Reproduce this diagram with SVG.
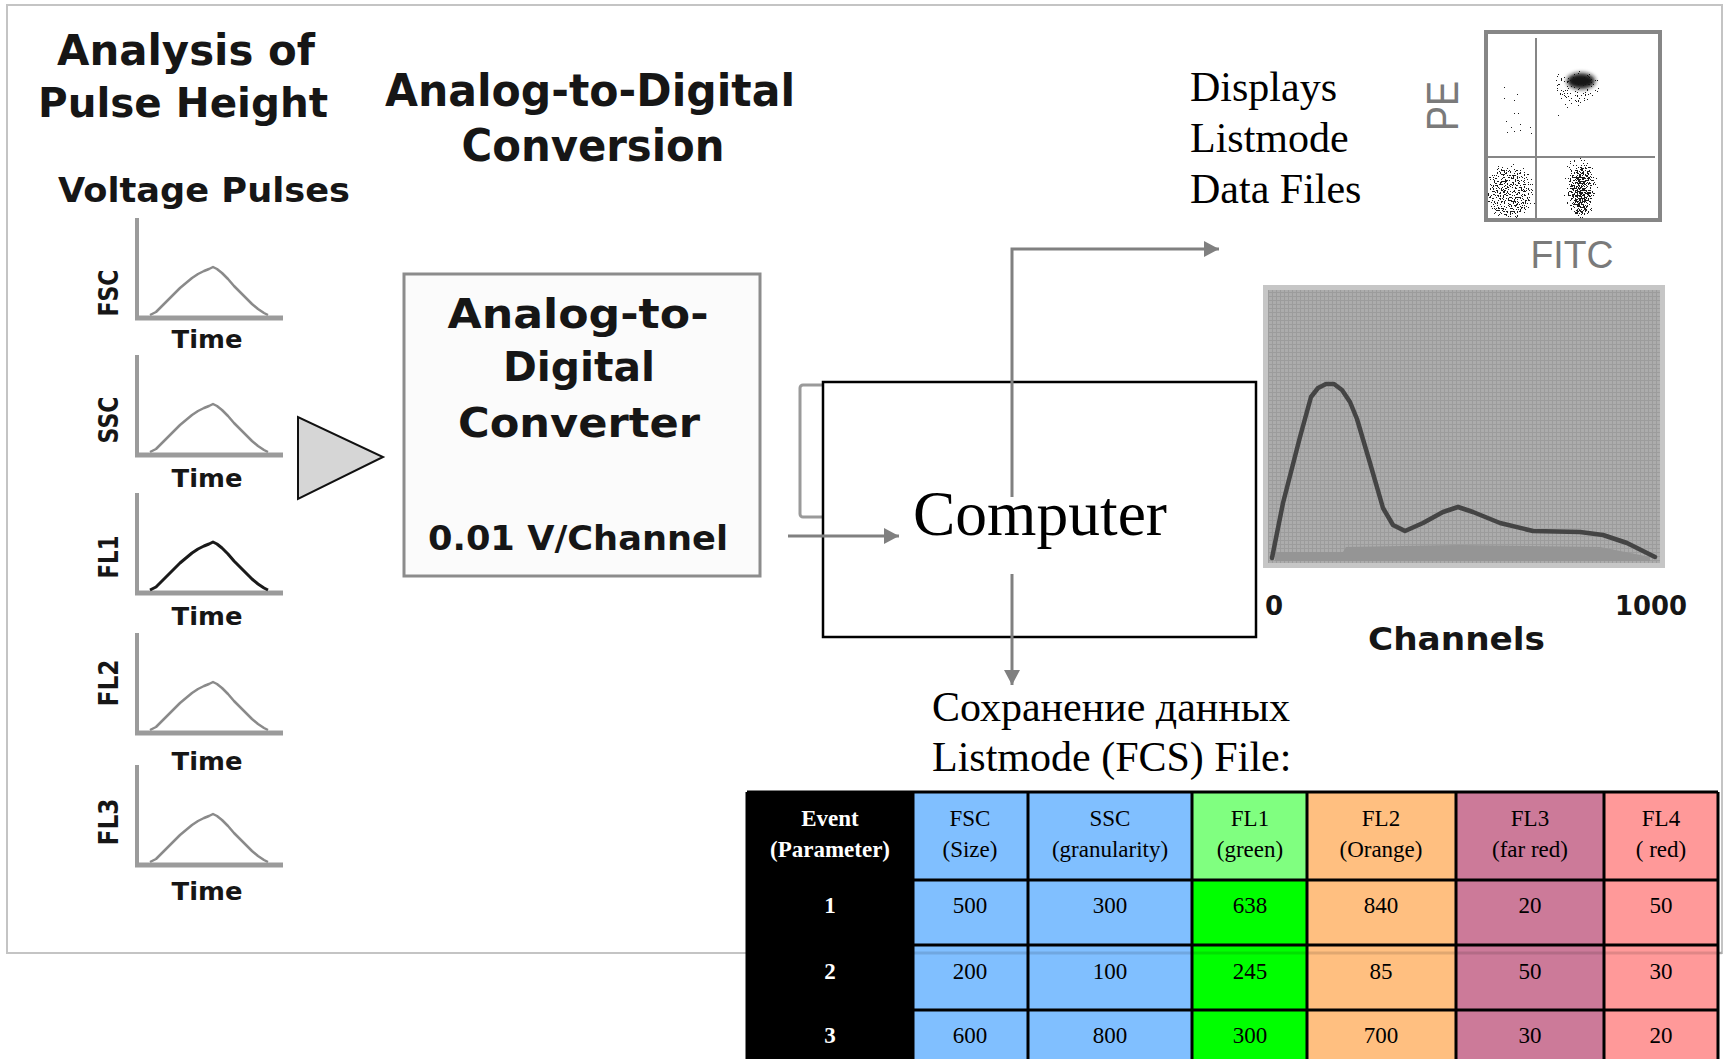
<svg xmlns="http://www.w3.org/2000/svg" width="1727" height="1059" viewBox="0 0 1727 1059">
<style>
.chi{font-family:"DejaVu Sans",sans-serif;font-weight:bold;fill:#161616}
.ser{font-family:"Liberation Serif",serif;fill:#000}
.hdr{font-family:"Liberation Serif",serif;font-size:23px;text-anchor:middle;fill:#000}
.hdrw{font-family:"Liberation Serif",serif;font-size:23px;text-anchor:middle;fill:#fff;font-weight:bold}
.axis{stroke:#9b9b9b;fill:none}
.pulse{fill:none;stroke:#8a8a8a;stroke-width:2.5;stroke-linejoin:round}
.conn{fill:none;stroke:#808080;stroke-width:3}
.grid{stroke:#000;stroke-width:3;fill:none}
.gtxt{font-family:"Liberation Sans",sans-serif;fill:#7a7a7a}
</style>
<defs>
<marker id="arr" markerUnits="userSpaceOnUse" markerWidth="16" markerHeight="16" refX="15" refY="8" orient="auto">
<path d="M0,0 L15,8 L0,16 z" fill="#808080"/>
</marker>
<path id="pulseShape" d="M150,-3 L156,-6 L162,-12 L168,-18 L174,-24 L180,-30 L186,-35 L192,-40 L198,-44 L204,-47 L209,-49 L213,-51 L217,-49 L222,-45 L228,-39 L234,-32 L240,-26 L246,-20 L252,-14 L258,-9 L264,-5 L268,-3"/>
<g id="axes">
<line class="axis" x1="137" y1="-100" x2="137" y2="0" stroke-width="4"/>
<line class="axis" x1="135" y1="0" x2="283" y2="0" stroke-width="5"/>
</g>
<pattern id="hgrid" patternUnits="userSpaceOnUse" width="4" height="4">
<rect width="4" height="4" fill="#acacac"/>
<path d="M0,0.5 H4 M0.5,0 V4" stroke="#9c9c9c" stroke-width="1"/>
</pattern>
<clipPath id="scClip"><rect x="1488" y="34" width="170" height="184"/></clipPath>
<filter id="speckle" filterUnits="userSpaceOnUse" x="1486" y="32" width="174" height="188" color-interpolation-filters="sRGB">
<feGaussianBlur in="SourceAlpha" stdDeviation="4" result="d"/>
<feTurbulence type="fractalNoise" baseFrequency="0.7" numOctaves="2" seed="7" result="n"/>
<feColorMatrix in="n" type="matrix" values="0 0 0 0 0  0 0 0 0 0  0 0 0 0 0  1 0 0 0 0" result="na"/>
<feComposite in="na" in2="d" operator="arithmetic" k1="0" k2="3" k3="1.5" k4="-2.3" result="v"/>
<feComponentTransfer in="v" result="t"><feFuncA type="discrete" tableValues="0 1"/></feComponentTransfer>
<feFlood flood-color="#1c1c1c"/>
<feComposite in2="t" operator="in"/>
</filter>
<filter id="soft" x="-50%" y="-50%" width="200%" height="200%">
<feGaussianBlur stdDeviation="2"/>
</filter>
</defs>

<rect width="1727" height="1059" fill="#fff"/>
<rect x="7" y="5" width="1715" height="948" fill="none" stroke="#c4c4c4" stroke-width="2"/>

<g id="title-analysis">
<text class="chi" x="57" y="65" font-size="42" textLength="258" lengthAdjust="spacingAndGlyphs">Analysis of</text>
<text class="chi" x="38" y="117" font-size="41" textLength="290" lengthAdjust="spacingAndGlyphs">Pulse Height</text>
</g>
<g id="title-voltage">
<text class="chi" x="58" y="202" font-size="33" textLength="292" lengthAdjust="spacingAndGlyphs">Voltage Pulses</text>
</g>
<g id="title-adc">
<text class="chi" x="590" y="106" font-size="44" text-anchor="middle" textLength="410" lengthAdjust="spacingAndGlyphs">Analog-to-Digital</text>
<text class="chi" x="593" y="161" font-size="44" text-anchor="middle" textLength="263" lengthAdjust="spacingAndGlyphs">Conversion</text>
</g>

<g id="pulse-fsc">
<use href="#axes" transform="translate(0,318)"/>
<use href="#pulseShape" class="pulse" transform="translate(0,318)"/>
<text class="chi" font-size="26" text-anchor="middle" textLength="47" lengthAdjust="spacingAndGlyphs" transform="translate(118,293) rotate(-90)">FSC</text>
<text class="chi" x="207" y="348" font-size="25" text-anchor="middle" textLength="71" lengthAdjust="spacingAndGlyphs">Time</text>
</g>
<g id="pulse-ssc">
<use href="#axes" transform="translate(0,455)"/>
<use href="#pulseShape" class="pulse" transform="translate(0,455)"/>
<text class="chi" font-size="26" text-anchor="middle" textLength="47" lengthAdjust="spacingAndGlyphs" transform="translate(118,420) rotate(-90)">SSC</text>
<text class="chi" x="207" y="487" font-size="25" text-anchor="middle" textLength="71" lengthAdjust="spacingAndGlyphs">Time</text>
</g>
<g id="pulse-fl1">
<use href="#axes" transform="translate(0,593)"/>
<use href="#pulseShape" class="pulse" style="stroke:#1a1a1a;stroke-width:3" transform="translate(0,593)"/>
<text class="chi" font-size="26" text-anchor="middle" textLength="43" lengthAdjust="spacingAndGlyphs" transform="translate(118,557) rotate(-90)">FL1</text>
<text class="chi" x="207" y="625" font-size="25" text-anchor="middle" textLength="71" lengthAdjust="spacingAndGlyphs">Time</text>
</g>
<g id="pulse-fl2">
<use href="#axes" transform="translate(0,733)"/>
<use href="#pulseShape" class="pulse" transform="translate(0,733)"/>
<text class="chi" font-size="26" text-anchor="middle" textLength="47" lengthAdjust="spacingAndGlyphs" transform="translate(118,683) rotate(-90)">FL2</text>
<text class="chi" x="207" y="770" font-size="25" text-anchor="middle" textLength="71" lengthAdjust="spacingAndGlyphs">Time</text>
</g>
<g id="pulse-fl3">
<use href="#axes" transform="translate(0,865)"/>
<use href="#pulseShape" class="pulse" transform="translate(0,865)"/>
<text class="chi" font-size="26" text-anchor="middle" textLength="47" lengthAdjust="spacingAndGlyphs" transform="translate(118,822) rotate(-90)">FL3</text>
<text class="chi" x="207" y="900" font-size="25" text-anchor="middle" textLength="71" lengthAdjust="spacingAndGlyphs">Time</text>
</g>

<g id="amplifier">
<polygon points="298,417 298,499 383,457" fill="#d6d6d6" stroke="#111" stroke-width="2"/>
</g>

<g id="adc">
<rect x="404" y="274" width="356" height="302" fill="#fbfbfb" stroke="#8c8c8c" stroke-width="3"/>
<text class="chi" x="578" y="328" font-size="40" text-anchor="middle" textLength="261" lengthAdjust="spacingAndGlyphs">Analog-to-</text>
<text class="chi" x="579" y="381" font-size="40" text-anchor="middle" textLength="152" lengthAdjust="spacingAndGlyphs">Digital</text>
<text class="chi" x="579" y="437" font-size="40" text-anchor="middle" textLength="242" lengthAdjust="spacingAndGlyphs">Converter</text>
<text class="chi" x="578" y="550" font-size="34" text-anchor="middle" textLength="300" lengthAdjust="spacingAndGlyphs">0.01 V/Channel</text>
</g>

<g id="display-box">
<rect x="800" y="385" width="60" height="132" rx="3" fill="#fff" stroke="#9a9a9a" stroke-width="3"/>
</g>

<g id="computer">
<rect x="823" y="382" width="433" height="255" fill="#fff" stroke="#000" stroke-width="2.5"/>
<text class="ser" x="913" y="535" font-size="64" textLength="254" lengthAdjust="spacingAndGlyphs">Computer</text>
</g>

<g id="displays-label">
<text class="ser" x="1190" y="101" font-size="42">Displays</text>
<text class="ser" x="1190" y="152" font-size="42">Listmode</text>
<text class="ser" x="1190" y="203" font-size="42">Data Files</text>
</g>

<g id="scatter-plot">
<g clip-path="url(#scClip)">
<g filter="url(#speckle)">
<ellipse cx="1576" cy="88" rx="26" ry="22" fill="#000" fill-opacity="0.55"/>
<ellipse cx="1510" cy="192" rx="26" ry="30" fill="#000" fill-opacity="0.72"/>
<ellipse cx="1581" cy="192" rx="11" ry="28" fill="#000" fill-opacity="0.85"/>
<ellipse cx="1580" cy="185" rx="20" ry="36" fill="#000" fill-opacity="0.5"/>
<ellipse cx="1515" cy="115" rx="22" ry="38" fill="#000" fill-opacity="0.33"/>
<ellipse cx="1565" cy="130" rx="20" ry="20" fill="#000" fill-opacity="0.28"/>
</g>
<ellipse cx="1581" cy="81" rx="14" ry="8" fill="#141414" filter="url(#soft)"/>
</g>
<rect x="1486" y="32" width="174" height="188" fill="none" stroke="#868686" stroke-width="4"/>
<line x1="1536" y1="38" x2="1536" y2="218" stroke="#868686" stroke-width="2"/>
<line x1="1488" y1="157" x2="1655" y2="157" stroke="#868686" stroke-width="2"/>
<text class="gtxt" font-size="44" text-anchor="middle" textLength="50" lengthAdjust="spacingAndGlyphs" transform="translate(1458,106) rotate(-90)">PE</text>
<text class="gtxt" x="1572" y="268" font-size="39" text-anchor="middle" textLength="83" lengthAdjust="spacingAndGlyphs">FITC</text>
</g>

<g id="histogram">
<rect x="1263" y="285" width="402" height="283" fill="#c6c6c6"/>
<rect x="1268" y="290" width="392" height="273" fill="url(#hgrid)"/>
<polygon points="1275,552 1343,552 1346,547 1460,545 1600,547 1650,557 1650,561 1275,561" fill="#959595"/>
<polyline points="1272,558 1283,503 1300,437 1311,397 1318,388 1326,384 1334,384 1342,390 1350,402 1357,419 1370,463 1383,508 1393,525 1405,531 1423,523 1443,512 1458,507 1473,512 1500,523 1533,531 1580,532 1603,535 1627,543 1655,557" fill="none" stroke="#444" stroke-width="4.5" stroke-linejoin="round" stroke-linecap="round"/>
<text class="chi" x="1265" y="615" font-size="26">0</text>
<text class="chi" x="1615" y="615" font-size="26" textLength="72" lengthAdjust="spacingAndGlyphs">1000</text>
<text class="chi" x="1368" y="650" font-size="32" textLength="177" lengthAdjust="spacingAndGlyphs">Channels</text>
</g>

<g id="save-label">
<text class="ser" x="932" y="721" font-size="42">Сохранение данных</text>
<text class="ser" x="932" y="771" font-size="42">Listmode (FCS) File:</text>
</g>

<g id="fcs-table">
<rect x="747" y="792" width="166" height="280" fill="#000"/>
<rect x="913" y="792" width="279" height="280" fill="#80bfff"/>
<rect x="1192" y="792" width="115" height="88" fill="#80ff80"/>
<rect x="1192" y="880" width="115" height="192" fill="#00ff00"/>
<rect x="1307" y="792" width="149" height="280" fill="#ffbf80"/>
<rect x="1456" y="792" width="148" height="280" fill="#cc7a99"/>
<rect x="1604" y="792" width="114" height="280" fill="#ff9999"/>
<path class="grid" d="M747,792 H1718 M747,880 H1718 M747,945 H1718 M747,1010 H1718 M747,792 V1072 M913,792 V1072 M1028,792 V1072 M1192,792 V1072 M1307,792 V1072 M1456,792 V1072 M1604,792 V1072 M1718,792 V1072"/>
<line x1="747" y1="953" x2="1722" y2="953" stroke="#000" stroke-opacity="0.12" stroke-width="3"/>
<text class="hdrw" x="830" y="826">Event</text>
<text class="hdrw" x="830" y="857">(Parameter)</text>
<text class="hdr" x="970" y="826">FSC</text>
<text class="hdr" x="970" y="857">(Size)</text>
<text class="hdr" x="1110" y="826">SSC</text>
<text class="hdr" x="1110" y="857">(granularity)</text>
<text class="hdr" x="1250" y="826">FL1</text>
<text class="hdr" x="1250" y="857">(green)</text>
<text class="hdr" x="1381" y="826">FL2</text>
<text class="hdr" x="1381" y="857">(Orange)</text>
<text class="hdr" x="1530" y="826">FL3</text>
<text class="hdr" x="1530" y="857">(far red)</text>
<text class="hdr" x="1661" y="826">FL4</text>
<text class="hdr" x="1661" y="857">( red)</text>
<text class="hdrw" x="830" y="913">1</text>
<text class="hdr" x="970" y="913">500</text>
<text class="hdr" x="1110" y="913">300</text>
<text class="hdr" x="1250" y="913">638</text>
<text class="hdr" x="1381" y="913">840</text>
<text class="hdr" x="1530" y="913">20</text>
<text class="hdr" x="1661" y="913">50</text>
<text class="hdrw" x="830" y="979">2</text>
<text class="hdr" x="970" y="979">200</text>
<text class="hdr" x="1110" y="979">100</text>
<text class="hdr" x="1250" y="979">245</text>
<text class="hdr" x="1381" y="979">85</text>
<text class="hdr" x="1530" y="979">50</text>
<text class="hdr" x="1661" y="979">30</text>
<text class="hdrw" x="830" y="1043">3</text>
<text class="hdr" x="970" y="1043">600</text>
<text class="hdr" x="1110" y="1043">800</text>
<text class="hdr" x="1250" y="1043">300</text>
<text class="hdr" x="1381" y="1043">700</text>
<text class="hdr" x="1530" y="1043">30</text>
<text class="hdr" x="1661" y="1043">20</text>
</g>

<g id="connectors">
<path class="conn" d="M788,536 L899,536" marker-end="url(#arr)"/>
<path class="conn" d="M1012,497 L1012,249 L1219,249" marker-end="url(#arr)"/>
<path class="conn" d="M1012,574 L1012,685" marker-end="url(#arr)"/>
</g>
</svg>
